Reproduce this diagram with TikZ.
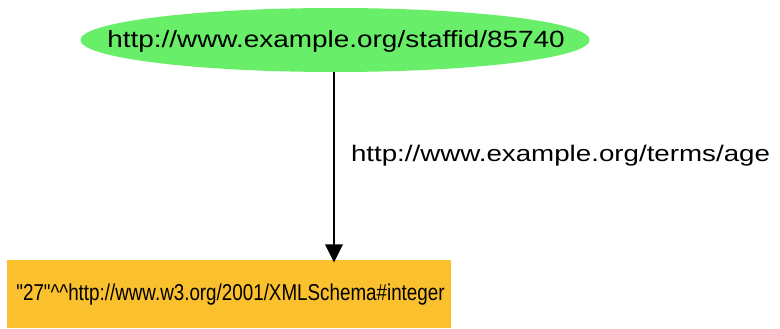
\documentclass[tikz,border=0pt]{standalone}
\usepackage{fontspec}
\setmainfont{Liberation Sans}
\usepackage{graphicx}
\usetikzlibrary{shapes.geometric,arrows.meta}
\definecolor{resgreen}{RGB}{104,238,104}
\definecolor{litorange}{RGB}{250,192,46}
\tikzset{
  resource/.style={ellipse, fill=resgreen, draw=none, inner sep=0pt,
    minimum width=382pt, minimum height=48pt},
  literal/.style={rectangle, fill=litorange, draw=none, inner sep=0pt,
    minimum width=333pt, minimum height=51pt},
  edgelabel/.style={inner sep=0pt},
  property/.style={line width=1.6pt, shorten >=-2pt,
    -{Triangle[width=13pt,length=13.5pt]}}
}
\begin{document}
\begin{tikzpicture}[x=0.75pt,y=-0.75pt]
  \useasboundingbox (0,0) rectangle (780,328);
  \node[resource] (res) at (335,40) {};
  \node[inner sep=0pt] (restext) at (336,41.5)
    {\fontsize{17.6}{20}\selectfont\scalebox{1.19}[1]{http://www.example.org/staffid/85740}};
  \node[literal] (lit) at (229,294) {};
  \node[inner sep=0pt] (littext) at (230.5,295)
    {\fontsize{17.2}{20}\selectfont\scalebox{0.82}[1]{\textquotedbl 27\textquotedbl\textasciicircum\textasciicircum http://www.w3.org/2001/XMLSchema\#integer}};
  \node[edgelabel] (prop) at (560.5,156)
    {\fontsize{16.9}{20}\selectfont\scalebox{1.23}[1]{http://www.example.org/terms/age}};
  \draw[property] (res.south -| 334,0) -- (334,0 |- lit.north);
\end{tikzpicture}
\end{document}
